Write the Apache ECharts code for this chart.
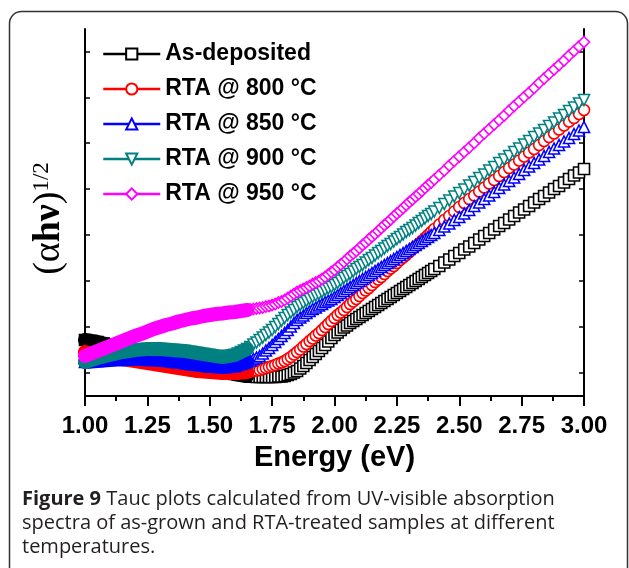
<!DOCTYPE html>
<html>
<head>
<meta charset="utf-8">
<title>Tauc plots</title>
<script src="https://cdn.jsdelivr.net/npm/echarts@6/dist/echarts.min.js"></script>
<style>
  html, body { margin: 0; padding: 0; background: #fff; }
  #tauc { width: 629px; height: 568px; }
</style>
</head>
<body>
<div id="tauc"></div>
<script>
// photon energy (eV) - sampling gets denser toward low energy like the measured spectra
var energy = [1.000,1.025,1.050,1.075,1.100,1.125,1.150,1.175,1.200,1.225,
  1.250,1.275,1.300,1.325,1.350,1.375,1.400,1.425,1.450,1.475,
  1.500,1.525,1.550,1.575,1.600,
  1.6125,1.625,1.6375,1.65,1.6625,1.675,1.6875,1.7,1.7125,1.725,
  1.7375,1.75,1.7625,1.775,1.7875,1.8,1.8125,1.825,1.8375,1.85,
  1.8625,1.875,1.8875,1.9,1.9125,1.925,1.9375,1.95,1.9625,1.975,
  1.9875,2.0,2.0125,2.025,2.0375,2.05,2.0625,2.075,2.0875,2.1,
  2.1125,2.125,2.1375,2.15,2.1625,2.175,2.1875,2.2,2.2125,2.225,
  2.2375,2.25,2.2625,2.275,2.2875,2.3,2.3125,2.325,2.3375,2.35,
  2.3625,2.375,2.3875,2.4,
  2.42,2.44,2.46,2.48,2.5,2.52,2.54,2.56,2.58,2.6,
  2.62,2.64,2.66,2.68,2.7,2.72,2.74,2.76,2.78,2.8,
  2.82,2.84,2.86,2.88,2.9,2.92,2.94,2.96,2.98,3.0];

// (ahv)^1/2, arbitrary units
var asDeposited = [56,55,54,52.5,51,49.5,48,46.5,45,43.5,
  42,40.5,39,37.5,36,34.5,33,32,30.5,29,
  28,26.5,25,23.5,22,
  21.5,21,20.5,20,19.5,19.5,19,19,19,19,
  19,19,19,19.5,19.5,20,21,22,23.5,25,
  27.5,30,33,36,39,42,45,48,51,54.5,
  58,61,63.5,66,68.5,70.5,73,75,77,79,
  81,83,85,87,89,91,93,95,97,99,
  101,103,105,107,109,111,113,115,117,119,
  121,123,125,127,
  130,133.5,136.5,140,143,146.5,149.5,153,156.5,160,
  163,166.5,170,173,176.5,180,183.5,186.5,190,193.5,
  197,200,203.5,207,210,213.5,217,220.5,223.5,227];
var rta800 = [44,42.5,41.5,40,39,38,37,36,35,34,
  33,32,31,30,29,28,27,26,25,24.5,
  24,23.5,23,23,23,
  23,23.5,23.5,24,24.5,25,25.5,26,27,28,
  29,30,31,32.5,33.5,35,37,39,41.5,44,
  46.5,49.5,52,55,57.5,60.5,63,66,69,72,
  75,78,81,83.5,86,89,92,94.5,97,100,
  103,105.5,108,111,114,116.5,119,122,125,127.5,
  130,133,136,138.5,141,144,147,149.5,152,155,
  158,161,164,167,
  171.5,176,180,184.5,189,193,197,200.5,204.5,208.5,
  212.5,216,220,224,228,231.5,235.5,239.5,243.5,247,
  251,255,259,262.5,266.5,270.5,274.5,278,282,286];
var rta850 = [34,34.5,35,35.5,36,36.5,36.5,37,37,37,
  36.5,36.5,36,35.5,34.5,34,33,32,31.5,30.5,
  30,29.5,29,29.5,30,
  31,32,33,34,35.5,37,38.5,40,42.5,45.5,
  48,51,54,57,60,63,66,69.5,73,76,
  78.5,80.5,83,85,87,88.5,90.5,92,94,95.5,
  97,99,101,103,105,107,109,111,113,115,
  117,119,121,123,125,127,129,131,133,135,
  137,139,141,143,145,147,149,151,153,155,
  157,159,161,163,
  166,169.5,172.5,176,179,182.5,186,190,193.5,197,
  200.5,204,208,211.5,215,218.5,222,226,229.5,233,
  236.5,240,244,247.5,251,254.5,258,262,265.5,269];
var rta900 = [34,36,38,39.5,41,42.5,44,45,46,46.5,
  47,47,47,46.5,46,45.5,45,44,43,42,
  41,40,39,40,41,
  42.5,44,45.5,47,49,51.5,53.5,56,58.5,61,
  63.5,66,69,72,75,78,81,83.5,86,89,
  91,93,95,97,99,100.5,102,104,106,107.5,
  109,111,113,115.5,118,120,122,124.5,127,129,
  131,133.5,136,138,140.5,143,145,147.5,150,152,
  154.5,157,159,161.5,164,166,168,170.5,173,175,
  177.5,180,182,184.5,
  188,192,195.5,199.5,203,206.5,210.5,214,218,221.5,
  225.5,229,233,236.5,240,244,247.5,251.5,255,259,
  262.5,266,270,273.5,277.5,281,285,288.5,292.5,296];
var rta950 = [40,42.5,45,47.5,50,52.5,55,57.5,60,62,
  64.5,67,69,71,72.5,74.5,76,77.5,78.5,80,
  81,82,82.5,83.5,84,
  84.5,85,85.5,86,86.5,87,87.5,88,88.5,89.5,
  90,91,92,93.5,94.5,96,98,100,102,104,
  105.5,107,108.5,110,112,113.5,115,117,119,121.5,
  124,126,129,131.5,134,137,140,142.5,145,148,
  151,153.5,156.5,159.5,162,165,168,171,173.5,176.5,
  179.5,182.5,185,188,191,194,196.5,199.5,202,205,
  208,211,213.5,216.5,
  221,225.5,230.5,235,239.5,244,248.5,253,258,262.5,
  267,271.5,276,280.5,285.5,290,294.5,299,303.5,308,
  313,317.5,322,326.5,331,335.5,340.5,345,349.5,354];

var names = ['As-deposited', 'RTA @ 800 °C', 'RTA @ 850 °C', 'RTA @ 900 °C', 'RTA @ 950 °C'];
var yTicks = [23, 69, 115, 161, 207, 253, 298, 344];

var chart = echarts.init(document.getElementById('tauc'), null, { renderer: 'canvas' });

var sets = [
  { data: asDeposited, color: '#000000', symbol: 'rect' },
  { data: rta800, color: '#ff0000', symbol: 'circle' },
  { data: rta850, color: '#0000ff', symbol: 'triangle' },
  { data: rta900, color: '#008080', symbol: 'path://M0,0 L10,0 L5,9 Z' },
  { data: rta950, color: '#ff00ff', symbol: 'diamond' }
];

// the crowded low-energy markers merge into a solid band in the original
var bandEnd = 29;

var series = [];
sets.forEach(function (s, k) {
  var pts = energy.map(function (e, i) { return [e, s.data[i]]; });
  series.push({
    name: names[k],
    type: 'line',
    z: 2 + k * 2,
    data: pts,
    symbol: s.symbol,
    symbolSize: 11,
    showAllSymbol: true,
    itemStyle: { color: '#fff', borderColor: s.color, borderWidth: 1.6 },
    lineStyle: { color: s.color, opacity: 0 },
    emphasis: { disabled: true }
  });
  series.push({
    name: 'band' + k,
    type: 'line',
    z: 3 + k * 2,
    data: pts.slice(0, bandEnd),
    symbol: 'none',
    lineStyle: { color: s.color, width: 14, cap: 'round', join: 'round' },
    emphasis: { disabled: true }
  });
});

var option = {
  backgroundColor: '#fff',
  animation: false,
  textStyle: { fontFamily: 'Liberation Sans, Arial, sans-serif' },
  title: {
    left: 17,
    top: 482,
    text: '{b|Figure 9} Tauc plots calculated from UV-visible absorption\nspectra of as-grown and RTA-treated samples at different\ntemperatures.',
    textStyle: {
      fontFamily: 'Open Sans',
      fontSize: 20,
      fontWeight: 'normal',
      color: '#231f20',
      lineHeight: 24,
      rich: {
        b: { fontFamily: 'Open Sans', fontSize: 20, fontWeight: 'bold', color: '#231f20', lineHeight: 24 }
      }
    }
  },
  graphic: [{
    type: 'rect',
    silent: true,
    shape: { x: 9.5, y: 11.5, width: 618, height: 620, r: 12 },
    style: { fill: 'none', stroke: '#333', lineWidth: 1.5 }
  }],
  legend: {
    data: names,
    orient: 'vertical',
    left: 97,
    top: 37,
    itemWidth: 57,
    itemHeight: 14,
    itemGap: 11,
    lineStyle: { opacity: 1, width: 2.5 },
    textStyle: {
      fontFamily: 'Liberation Sans',
      fontSize: 23,
      fontWeight: 'bold',
      color: '#000',
      lineHeight: 24
    },
    selectedMode: false
  },
  grid: { left: 85, top: 29, width: 499, height: 367 },
  xAxis: [{
    type: 'value',
    position: 'bottom',
    min: 1,
    max: 3,
    interval: 0.25,
    name: 'Energy (eV)',
    nameLocation: 'middle',
    nameGap: 47,
    nameTextStyle: { fontFamily: 'Liberation Sans', fontSize: 29, fontWeight: 'bold', color: '#000' },
    axisLine: { lineStyle: { color: '#000', width: 2 } },
    axisTick: { inside: false, length: 10, lineStyle: { color: '#000', width: 2 } },
    minorTick: { show: true, splitNumber: 2, length: 5, lineStyle: { color: '#000', width: 2 } },
    axisLabel: {
      margin: 18,
      fontFamily: 'Liberation Sans',
      fontSize: 24,
      fontWeight: 'bold',
      color: '#000',
      formatter: function (v) { return v.toFixed(2); }
    },
    splitLine: { show: false }
  }, {
    type: 'value',
    position: 'top',
    min: 1,
    max: 3,
    interval: 0.125,
    axisLine: { lineStyle: { color: '#000', width: 2 } },
    axisTick: { inside: true, length: 4, lineStyle: { color: '#000', width: 1.5 } },
    axisLabel: { show: false },
    splitLine: { show: false }
  }],
  yAxis: [{
    type: 'value',
    position: 'left',
    min: 0,
    max: 367,
    name: '{p|(α}{b|hν}{p|)}{s|1/2}',
    nameLocation: 'middle',
    nameRotate: 90,
    nameGap: 17,
    nameTextStyle: {
      padding: [0, 12, 0, 0],
      rich: {
        p: { fontFamily: 'Liberation Serif', fontSize: 38, color: '#000' },
        b: { fontFamily: 'Liberation Serif', fontSize: 38, fontWeight: 'bold', color: '#000' },
        s: { fontFamily: 'Liberation Serif', fontSize: 23, color: '#000', verticalAlign: 'top' }
      }
    },
    axisLine: { show: true, lineStyle: { color: '#000', width: 2 } },
    axisTick: { show: true, inside: true, length: 5, customValues: yTicks, lineStyle: { color: '#000', width: 1.5 } },
    axisLabel: { show: false },
    splitLine: { show: false }
  }, {
    type: 'value',
    position: 'right',
    min: 0,
    max: 367,
    axisLine: { show: true, lineStyle: { color: '#000', width: 2 } },
    axisTick: { show: true, inside: true, length: 5, customValues: yTicks, lineStyle: { color: '#000', width: 1.5 } },
    axisLabel: { show: false },
    splitLine: { show: false }
  }],
  series: series
};

chart.setOption(option);
</script>
</body>
</html>
